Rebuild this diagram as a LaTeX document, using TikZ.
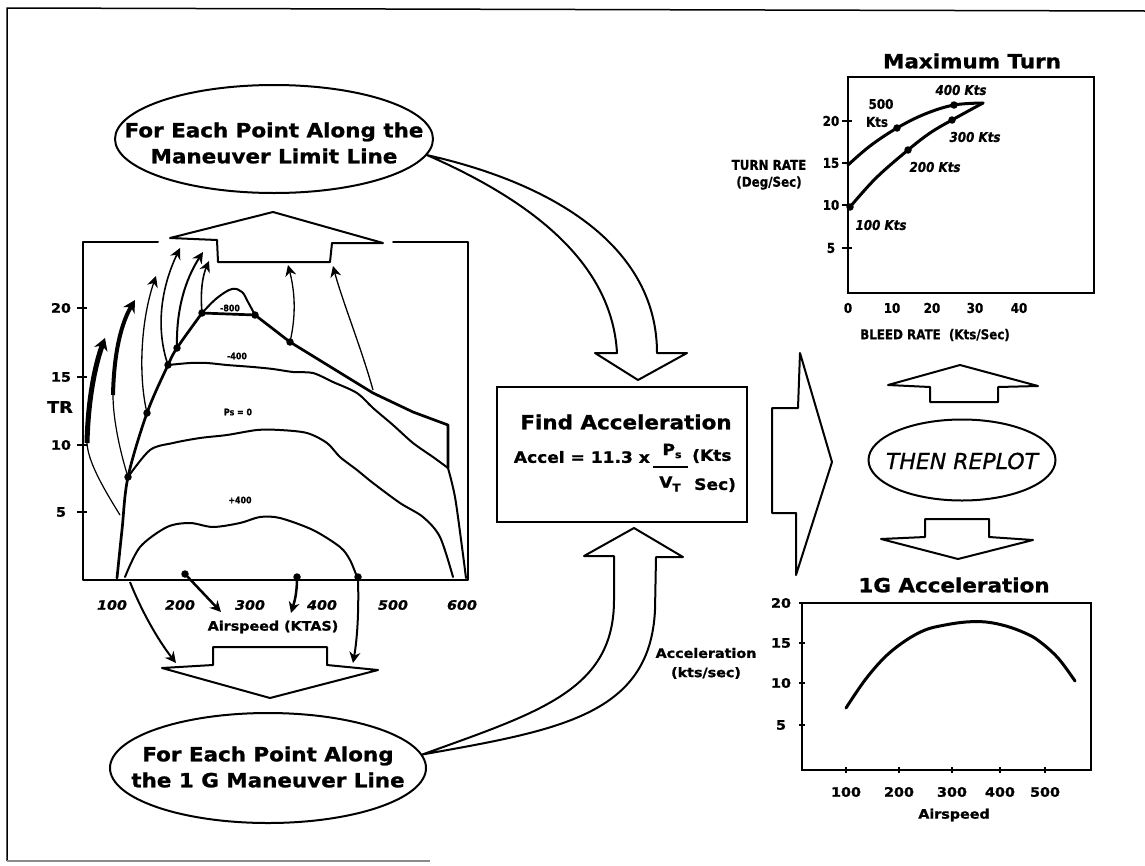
\documentclass[tikz,border=0pt]{standalone}
\usepackage{fontspec}
\setmainfont{DejaVu Sans}
\newfontfamily\wb[FakeStretch=1.1, BoldFeatures={FakeBold=1.2}, BoldItalicFeatures={FakeBold=1}]{DejaVu Sans}
\newfontfamily\cb[FakeStretch=0.88, BoldFeatures={FakeBold=0.8}, BoldItalicFeatures={FakeBold=0.8}]{DejaVu Sans}
\newfontfamily\ob[ItalicFeatures={FakeBold=0.8}]{DejaVu Sans}
\usetikzlibrary{arrows.meta,shapes.geometric}
\tikzset{
  ln/.style={line width=2pt, line join=round, line cap=round},
  thk/.style={line width=2.7pt, line join=round, line cap=round},
  big/.style={font=\wb\bfseries\fontsize{19.5}{26}\selectfont, align=center, inner sep=0},
  mid/.style={font=\wb\bfseries\fontsize{15.5}{18}\selectfont, inner sep=0},
  lab/.style={font=\wb\bfseries\fontsize{13}{15}\selectfont, inner sep=0},
  labit/.style={font=\wb\bfseries\itshape\fontsize{13}{15}\selectfont, inner sep=0},
  sml/.style={font=\cb\bfseries\fontsize{13.5}{16}\selectfont, inner sep=0},
  smlit/.style={font=\cb\bfseries\itshape\fontsize{13.5}{16}\selectfont, inner sep=0},
  tiny/.style={font=\cb\bfseries\fontsize{9}{10}\selectfont, inner sep=0},
  dot/.style={circle, fill=black, inner sep=0, minimum size=7.5pt},
  oval/.style={ellipse, draw, line width=2pt, inner sep=0},
  hd/.style={-{Stealth[length=11pt,width=11pt]}},
}
\begin{document}
\begin{tikzpicture}[x=1pt,y=-1pt]
\useasboundingbox (0,0) rectangle (1145,865);
% outer frame
\draw[line width=1.5pt] (1145,11) -- (7,8) -- (7,861);
\draw[line width=1.2pt, black!45] (7,861) -- (430,861);

% ---------- top ellipse ----------
\node[oval, minimum width=318pt, minimum height=108pt] (topell) at (274,139) {};
\node[big] (toptxt) at (274,143) {For Each Point Along the\\Maneuver Limit Line};

% ---------- bottom ellipse ----------
\node[oval, minimum width=316pt, minimum height=110pt] (botell) at (268,768) {};
\node[big] (bottxt) at (268,767) {For Each Point Along\\the 1 G Maneuver Line};

% ---------- Find Acceleration box ----------
\node[draw, line width=2pt, minimum width=250pt, minimum height=135pt, inner sep=0] (box) at (622,454.5) {};
\node[big] (find) at (626,422) {Find Acceleration};
\node[mid, anchor=east] (acc) at (650,457) {Accel = 11.3 x};
\node[mid] (ps) at (672,451) {P\raisebox{-3pt}{\fontsize{10}{10}\selectfont s}};
\node[mid] (vt) at (670,484) {V\raisebox{-4pt}{\fontsize{11}{11}\selectfont T}};
\draw[line width=1.6pt] (653,467) -- (688,467);
\node[mid, anchor=west] (kts) at (692,456) {(Kts};
\node[mid, anchor=west] (sec) at (694,485) {Sec)};

% hollow arrow A: top ellipse -> box
\coordinate (aS) at (topell.-6);
\draw[ln] (aS) .. controls (560,185) and (657,250) .. (657,353) -- (687,353) -- (638,380) -- (595,353) -- (617,353) .. controls (612,262) and (530,200) .. (aS);

% hollow arrow B: bottom ellipse -> box
\coordinate (bS) at (botell.5);
\draw[ln] (bS) .. controls (540,712) and (614,690) .. (614,600) -- (614,556) -- (584,556) -- (634,528) -- (683,557) -- (656,557) -- (655,610) .. controls (650,715) and (560,730) .. (bS);

% big right arrow C
\draw[ln] (772,408) -- (798,408) -- (800,353) -- (832,462) -- (796,575) -- (796,513) -- (772,513) -- cycle;

% ---------- THEN REPLOT ----------
\node[oval, minimum width=187pt, minimum height=81pt] (replot) at (962,460) {};
\node[font=\ob\itshape\fontsize{22}{26}\selectfont, inner sep=0] (replottxt) at (962,461) {THEN REPLOT};
\draw[ln] (888,385) -- (960,365) -- (1038,386) -- (998,387) -- (998,402) -- (930,402) -- (930,387) -- cycle;
\draw[ln] (925,519) -- (989,519) -- (989,537) -- (1033,540) -- (958,559) -- (881,539) -- (925,537) -- cycle;

% ---------- Maximum Turn chart ----------
\node[big] (mt) at (972,61) {Maximum Turn};
\draw[line width=1.8pt] (848,77) rectangle (1094,293);
\foreach \v/\yy in {20/121,15/163,10/205,5/248}{
  \node[sml] (ty\v) at (831,\yy) {\v};
  \draw[line width=1.4pt] (842,\yy) -- (852,\yy);
}
\foreach \v/\xx in {0/848,10/892,20/932,30/975,40/1019}{
  \node[sml] (tx\v) at (\xx,308) {\v};
}
\node[sml] (bleed) at (935,335) {BLEED RATE \ (Kts/Sec)};
\node[sml] (turn1) at (769,165) {TURN RATE};
\node[sml] (turn2) at (769,183) {(Deg/Sec)};
\draw[line width=3pt, line cap=round] plot[smooth, tension=0.6] coordinates {(848,165) (870,146) (897,128) (925,114) (954,105) (983,103)};
\draw[line width=3pt, line cap=round] plot[smooth, tension=0.6] coordinates {(850,207) (876,178) (908,150) (930,133) (952,120) (983,103)};
\node[dot] (T1) at (850,207) {};
\node[dot] (T2) at (908,150) {};
\node[dot] (T3) at (952,120) {};
\node[dot] (T4) at (897,128) {};
\node[dot] (T5) at (954,105) {};
\node[sml] (k5a) at (881,104) {500};
\node[sml] (k5b) at (877,122) {Kts};
\node[smlit] (k4) at (961,90) {400 Kts};
\node[smlit] (k3) at (975,137) {300 Kts};
\node[smlit] (k2) at (935,167) {200 Kts};
\node[smlit] (k1) at (881,225) {100 Kts};

% ---------- 1G Acceleration chart ----------
\node[big] (ga) at (954,585) {1G Acceleration};
\draw[line width=1.8pt] (802,603) rectangle (1091,770);
\foreach \v/\yy in {20/603,15/643,10/683,5/725}{
  \node[lab] (gy\v) at (781,\yy) {\v};
  \draw[line width=1.4pt] (799,\yy) -- (805,\yy);
}
\foreach \v/\xx in {100/846,200/899,300/952,400/1000,500/1045}{
  \node[lab] (gx\v) at (\xx,792) {\v};
  \draw[line width=1.4pt] (\xx,767) -- (\xx,773);
}
\node[lab] (gair) at (954,815) {Airspeed};
\node[lab] (gacc1) at (706,653) {Acceleration};
\node[lab] (gacc2) at (706,673) {(kts/sec)};
\draw[line width=3pt, line cap=round] plot[smooth, tension=0.6] coordinates {(846,708) (865,680) (885,657) (905,641) (925,630) (945,625) (966,622) (986,622) (1006,626) (1025,633) (1039,641) (1058,658) (1075,681)};

% ---------- left chart ----------
\draw[ln] (158,242) -- (83,242) -- (83,580) -- (468,580) -- (468,242) -- (393,242);
% up arrow F
\draw[ln] (170,238) -- (273,212) -- (383,243) -- (332,243) -- (330,262) -- (218,262) -- (217,240) -- cycle;
% axis labels
\foreach \v/\yy in {20/308,15/377,10/445,5/512}{
  \node[lab] (ly\v) at (61,\yy) {\v};
  \draw[line width=1.4pt] (77,\yy) -- (87,\yy);
}
\node[font=\wb\bfseries\fontsize{16}{18}\selectfont, inner sep=0] (tr) at (60,407) {TR};
\foreach \v/\xx in {100/112,200/180,300/250,400/322,500/393,600/462}{
  \node[labit] (lx\v) at (\xx,605) {\v};
}
\node[lab] (lair) at (273,627) {Airspeed (KTAS)};
% maneuver limit line
\draw[thk] plot[smooth, tension=0.55] coordinates {(117,578) (122,530) (128,477) (147,413) (168,365) (177,348) (202,313)} -- (255,315) -- (290,342) -- (373,393) -- (413,412) -- (448,425) -- (448,468);
% -800 bubble
\draw[ln] plot[smooth, tension=0.6] coordinates {(202,313) (217,298) (232,289) (242,292) (248,302) (255,315)};
% -400
\draw[ln] plot[smooth, tension=0.5] coordinates {(168,365) (190,363) (207,363) (227,365) (253,367) (273,369) (293,372) (313,373) (333,382) (357,393) (373,408) (393,425) (413,443) (433,457) (448,468)};
% Ps = 0
\draw[ln] plot[smooth, tension=0.5] coordinates {(128,477) (150,450) (173,443) (200,438) (227,435) (257,430) (280,430) (307,433) (327,443) (340,457) (357,470) (373,483) (400,503) (423,517) (440,537) (453,577)};
% +400
\draw[ln] plot[smooth, tension=0.5] coordinates {(125,577) (140,547) (167,527) (190,523) (213,527) (240,523) (260,517) (280,518) (313,530) (340,547) (350,560) (357,577)};
% right boundary
\draw[ln] plot[smooth, tension=0.5] coordinates {(448,468) (455,497) (462,547) (466,578)};
% contour labels
\node[tiny] (c800) at (230,308) {-800};
\node[tiny] (c400a) at (237,356) {-400};
\node[tiny] (c0) at (238,412) {Ps = 0};
\node[tiny] (c400b) at (240,500) {+400};
% dots
\node[dot] (L1) at (128,477) {};
\node[dot] (L2) at (147,413) {};
\node[dot] (L3) at (168,365) {};
\node[dot] (L4) at (177,348) {};
\node[dot] (L5) at (202,313) {};
\node[dot] (L6) at (255,315) {};
\node[dot] (L7) at (290,342) {};
\node[dot] (B1) at (185,574) {};
\node[dot] (B2) at (297,577) {};
\node[dot] (B3) at (358,577) {};
\coordinate (a1) at (120,515);
\coordinate (r2) at (373,390);
\coordinate (b0) at (130,582);
% bleed arcs to the top
\draw[line width=1.2pt] (a1) .. controls (100,483) and (88,460) .. (87,443);
\draw[line width=5pt, -{Stealth[length=12pt,width=14pt]}] (87,443) .. controls (88,400) and (95,365) .. (105,338);
\draw[line width=1.2pt] (L1.center) .. controls (118,445) and (113,415) .. (113,395);
\draw[line width=4pt, -{Stealth[length=12pt,width=13pt]}] (113,395) .. controls (114,350) and (122,322) .. (135,300);
\draw[line width=1.3pt, hd] (L2.center) .. controls (138,375) and (141,320) .. (156,276);
\draw[line width=1.6pt, hd] (L3.center) .. controls (156,330) and (160,290) .. (180,248);
\draw[line width=2pt, hd] (L4.center) .. controls (176,310) and (185,280) .. (203,252);
\draw[line width=1.6pt, hd] (L5.center) .. controls (200,290) and (203,275) .. (209,261);
\draw[line width=1.3pt, hd] (L7.center) .. controls (297,312) and (294,288) .. (288,265);
\draw[line width=1.3pt, hd] (r2) .. controls (362,350) and (342,300) .. (333,266);
% arrows down to 1 G arrow
\draw[line width=2.5pt, hd] (B1.center) -- (221,612);
\draw[line width=2.5pt, hd] (B2.center) .. controls (297,595) and (294,603) .. (291,613);
\draw[line width=2pt, hd] (b0) .. controls (142,612) and (158,640) .. (176,663);
\draw[line width=2pt, hd] (B3.center) .. controls (359,615) and (357,640) .. (353,663);
% down arrow G
\draw[ln] (162,668) -- (213,665) -- (213,647) -- (327,647) -- (327,665) -- (378,670) -- (270,698) -- cycle;
\end{tikzpicture}
\end{document}
